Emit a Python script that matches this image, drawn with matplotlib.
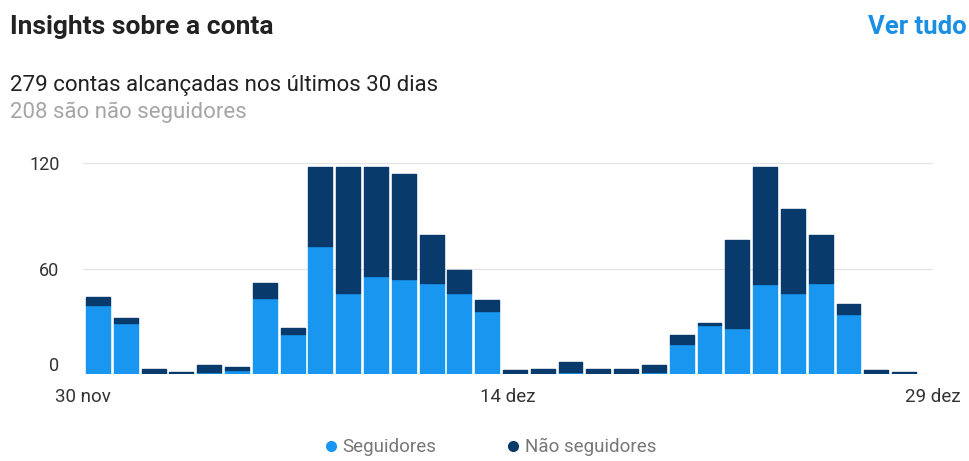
import matplotlib.pyplot as plt
from matplotlib.lines import Line2D
from matplotlib.transforms import ScaledTranslation

plt.rcParams['font.family'] = ['Roboto', 'DejaVu Sans']

# daily reach, 30 nov .. 29 dez
days = list(range(30))
seguidores = [39, 29, 0, 0, 1, 2, 43, 23, 73, 46, 56, 54, 52, 46, 36,
              0, 0, 1, 0, 0, 1, 17, 28, 26, 51, 46, 52, 34, 0, 0]
nao_seguidores = [5, 3, 3, 1, 4, 2, 9, 3, 45, 72, 62, 60, 27, 13, 6,
                  2, 3, 6, 3, 3, 4, 5, 1, 50, 67, 48, 27, 6, 2, 1]
x_labels = ["30 nov", "14 dez", "29 dez"]
y_ticks = [0, 60, 120]

light = "#1896f0"
dark = "#083b6c"

fig = plt.figure(figsize=(9.7, 4.61), dpi=100)
ax = fig.add_axes([83 / 970, 1 - 374 / 461, 850 / 970, 211 / 461])

ax.bar(days, seguidores, width=0.86, color=light, edgecolor=light,
       linewidth=1.0, joinstyle="round", zorder=3)
ax.bar(days, nao_seguidores, width=0.86, bottom=seguidores, color=dark,
       edgecolor=dark, linewidth=1.0, joinstyle="round", zorder=3)

ax.set_xlim(-0.54, 30.04)
ax.set_ylim(0, 120)
for v in y_ticks:
    ax.axhline(v, color="#e3e3e3", lw=0.9, zorder=1)

for s in ax.spines.values():
    s.set_visible(False)
ax.tick_params(length=0)
ax.set_yticks(y_ticks)
ax.set_yticklabels([str(v) for v in y_ticks], fontsize=13, color="#333333")
ax.tick_params(axis="y", pad=17)
# the zero label sits a little above the baseline
ax.get_yticklabels()[0].set_transform(
    ax.get_yticklabels()[0].get_transform()
    + ScaledTranslation(0, 10 / 100, fig.dpi_scale_trans))

lo, hi = ax.get_xlim()
ax.set_xticks([lo, (lo + hi) / 2, hi])
ax.set_xticklabels(x_labels, fontsize=13.5, color="#333333")
ax.tick_params(axis="x", pad=10)

fig.text(10 / 970, 1 - 27 / 461, "Insights sobre a conta", fontsize=19,
         fontweight="bold", color="#222222", va="center")
fig.text(967 / 970, 1 - 27 / 461, "Ver tudo", fontsize=18.5,
         fontweight="bold", color="#1a8fe3", va="center", ha="right")
fig.text(10 / 970, 1 - 86 / 461, "279 contas alcançadas nos últimos 30 dias",
         fontsize=16, color="#222222", va="center")
fig.text(10 / 970, 1 - 112 / 461, "208 são não seguidores",
         fontsize=16, color="#a6a6a6", va="center")

handles = [
    Line2D([], [], ls="none", marker="o", ms=7, color=light),
    Line2D([], [], ls="none", marker="o", ms=7, color=dark),
]
fig.legend(handles, ["Seguidores", "Não seguidores"], ncol=2, frameon=False,
           loc="center", bbox_to_anchor=(489 / 970, 1 - 447 / 461),
           fontsize=13.5, labelcolor="#777777", handletextpad=0.1,
           columnspacing=3.6, handlelength=1.0)

fig.savefig("out.png", dpi=100)
